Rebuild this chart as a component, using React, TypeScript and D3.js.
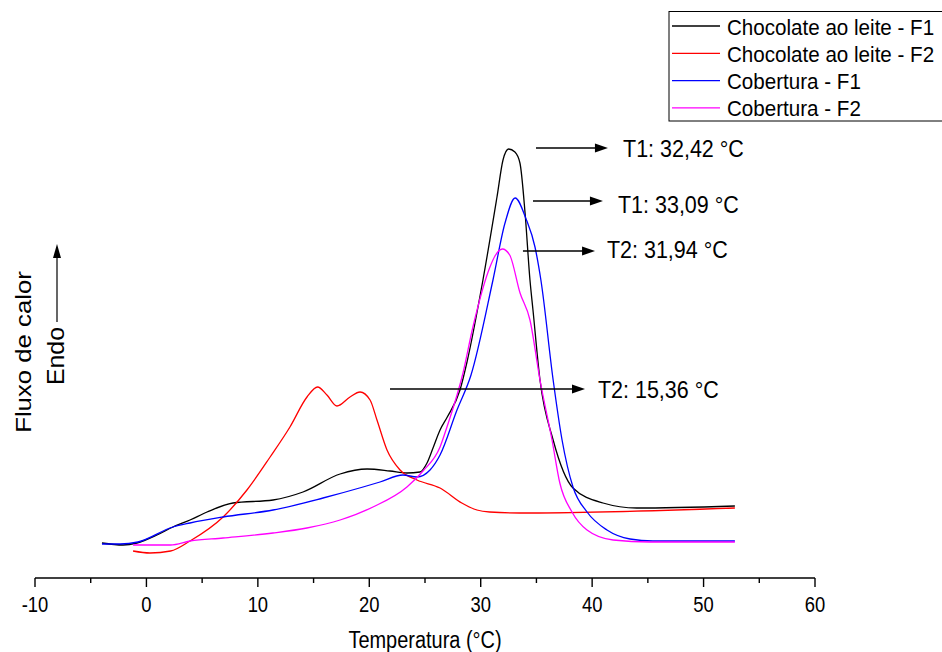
import React from "react";
import * as d3 from "d3";

const W = 942;
const H = 652;

// Chocolate ao leite - F1 (black)
const f1LeiteT = [-3.99, -2.1, -0.85, 0.95, 2.38, 3.91, 5.44, 7.77, 11.36, 14.05, 17.38, 19.8, 21.86, 23.38, 24.55, 25.18, 25.72, 26.35, 27.0, 28.14, 28.77, 30.2, 31.46, 32.0, 32.5, 33.07, 33.52, 33.98, 34.42, 34.69, 35.32, 36.5, 38.28, 40.97, 44.0, 52.81];
const f1LeiteV = [7.0, 6.6, 7.0, 8.6, 10.2, 11.6, 13.2, 15.0, 15.6, 17.2, 20.8, 21.8, 21.4, 21.0, 21.2, 23.0, 26.0, 29.6, 32.2, 37.6, 43.2, 59.6, 76.2, 83.6, 85.8, 85.2, 83.0, 73.0, 59.6, 53.6, 39.6, 27.6, 18.0, 15.0, 14.0, 14.4];

// Chocolate ao leite - F2 (red)
const f2LeiteT = [-1.2, 0.32, 2.17, 3.91, 6.88, 9.02, 11.1, 12.88, 14.41, 15.36, 16.2, 17.1, 18.27, 19.17, 20.07, 20.69, 21.59, 22.76, 24.28, 26.35, 28.3, 29.66, 30.8, 33.5, 52.81];
const f2LeiteV = [5.4, 5.0, 5.4, 7.4, 12.2, 17.6, 24.2, 30.2, 36.2, 38.2, 36.6, 34.4, 36.2, 37.2, 35.6, 31.6, 25.6, 21.6, 19.6, 18.0, 15.0, 13.6, 13.2, 13.0, 14.0];

// Cobertura - F1 (blue)
const f1CobT = [-3.99, -2.37, -0.76, 2.38, 3.91, 6.88, 11.36, 15.85, 19.44, 20.96, 23.02, 24.28, 25.45, 26.35, 27.87, 29.13, 31.1, 32.18, 33.09, 34.07, 34.87, 35.4, 36.5, 37.3, 38.28, 39.54, 41.33, 43.4, 45.46, 52.81];
const f1CobV = [6.8, 6.8, 7.2, 10.2, 11.0, 12.2, 13.6, 16.0, 18.2, 19.2, 20.6, 20.2, 21.6, 24.6, 33.6, 40.6, 59.6, 71.0, 76.0, 71.8, 66.2, 59.6, 39.6, 27.6, 18.2, 13.2, 9.6, 7.8, 7.4, 7.4];

// Cobertura - F2 (magenta)
const f2CobT = [-1.2, 2.17, 3.91, 6.88, 11.36, 14.4, 17.38, 20.33, 23.38, 24.82, 26.35, 26.97, 28.41, 29.3, 30.83, 31.28, 31.94, 32.6, 33.53, 34.42, 35.32, 36.4, 37.1, 38.19, 39.54, 41.88, 45.2, 52.81];
const f2CobV = [6.6, 6.6, 7.4, 8.0, 9.0, 10.0, 11.6, 14.2, 18.2, 21.4, 26.2, 30.2, 41.0, 50.2, 62.2, 64.4, 65.8, 64.6, 57.0, 51.6, 39.6, 27.6, 19.0, 13.2, 9.6, 7.6, 7.2, 7.2];

const seriesNames = ["Chocolate ao leite - F1", "Chocolate ao leite - F2", "Cobertura - F1", "Cobertura - F2"];
const seriesColors = ["#000000", "#ff0000", "#0000ff", "#ff00ff"];
const seriesT = [f1LeiteT, f2LeiteT, f1CobT, f2CobT];
const seriesV = [f1LeiteV, f2LeiteV, f1CobV, f2CobV];

const xTicks = [-10, 0, 10, 20, 30, 40, 50, 60];
const xMinorTicks = [-5, 5, 15, 25, 35, 45, 55];

// Peak annotations
const annotLabels = ["T1: 32,42 °C", "T1: 33,09 °C", "T2: 31,94 °C", "T2: 15,36 °C"];
const annotStart = [34.96, 34.69, 33.79, 21.86];
const annotEnd = [41.42, 40.97, 40.26, 39.36];
const annotLineV = [86, 75.4, 65.4, 37.8];
const annotTextT = [42.77, 42.32, 41.33, 40.52];
const annotTextV = [84.2, 73.0, 64.0, 36.0];

const FONT = "'Liberation Sans', Arial, Helvetica, sans-serif";

export default function App() {
  const x = d3.scaleLinear().domain([-10, 60]).range([35, 815]);
  const y = d3.scaleLinear().domain([0, 100]).range([578, 78]);
  const line = d3
    .line<[number, number]>()
    .x((d) => x(d[0]))
    .y((d) => y(d[1]))
    .curve(d3.curveMonotoneX);

  const axisY = y(0);

  return (
    <svg
      width={W}
      height={H}
      viewBox={`0 0 ${W} ${H}`}
      style={{ position: "absolute", left: 0, top: 0, background: "#fff" }}
      fontFamily={FONT}
    >
      <rect x={0} y={0} width={W} height={H} fill="#fff" />

      {/* curves */}
      {seriesT.map((ts, i) => (
        <path
          key={i}
          d={line(ts.map((t, j) => [t, seriesV[i][j]]))!}
          fill="none"
          stroke={seriesColors[i]}
          strokeWidth={1.3}
        />
      ))}

      {/* x axis */}
      <line x1={x(-10)} x2={x(60)} y1={axisY} y2={axisY} stroke="#000" strokeWidth={1.6} />
      {xTicks.map((t) => (
        <g key={t}>
          <line x1={x(t)} x2={x(t)} y1={axisY} y2={axisY + 9} stroke="#000" strokeWidth={1.4} />
          <g transform={`translate(${x(t)},${axisY + 34}) scale(0.92,1.1)`}>
            <text textAnchor="middle" fontSize={20} fill="#000">
              {t}
            </text>
          </g>
        </g>
      ))}
      {xMinorTicks.map((t) => (
        <line key={t} x1={x(t)} x2={x(t)} y1={axisY} y2={axisY + 5} stroke="#000" strokeWidth={1.4} />
      ))}
      <g transform={`translate(${(x(-10) + x(60)) / 2},${axisY + 70}) scale(0.95,1.1)`}>
        <text textAnchor="middle" fontSize={21} fill="#000">
          Temperatura (°C)
        </text>
      </g>

      {/* y label */}
      <g transform={`translate(31,352) rotate(-90) scale(1.12,1)`}>
        <text textAnchor="middle" fontSize={23} fill="#000">
          Fluxo de calor
        </text>
      </g>
      <g transform={`translate(64,356) rotate(-90) scale(1.08,1)`}>
        <text textAnchor="middle" fontSize={23} fill="#000">
          Endo
        </text>
      </g>
      <line x1={57} x2={57} y1={322} y2={256} stroke="#000" strokeWidth={1.2} />
      <path d="M57,244 L53,258 L61,258 Z" fill="#000" />

      {/* annotations */}
      {annotLabels.map((lab, i) => {
        const x1 = x(annotStart[i]);
        const x2 = x(annotEnd[i]);
        const yy = y(annotLineV[i]);
        return (
          <g key={i}>
            <line x1={x1} x2={x2 - 10} y1={yy} y2={yy} stroke="#000" strokeWidth={1.3} />
            <path d={`M${x2},${yy} L${x2 - 13},${yy - 4.5} L${x2 - 13},${yy + 4.5} Z`} fill="#000" />
            <g transform={`translate(${x(annotTextT[i])},${y(annotTextV[i])}) scale(1,1.08)`}>
              <text fontSize={21.5} fill="#000">
                {lab}
              </text>
            </g>
          </g>
        );
      })}

      {/* legend */}
      <rect x={669} y={11.5} width={290} height={109.5} fill="#fff" stroke="#000" strokeWidth={1} />
      {seriesNames.map((name, i) => {
        const ry = 26 + i * 27.3;
        return (
          <g key={name}>
            <line x1={672} x2={720} y1={ry} y2={ry} stroke={seriesColors[i]} strokeWidth={1.3} />
            <g transform={`translate(727,${ry + 8.5}) scale(1,1.1)`}>
              <text fontSize={20.6} fill="#000">
                {name}
              </text>
            </g>
          </g>
        );
      })}
    </svg>
  );
}
